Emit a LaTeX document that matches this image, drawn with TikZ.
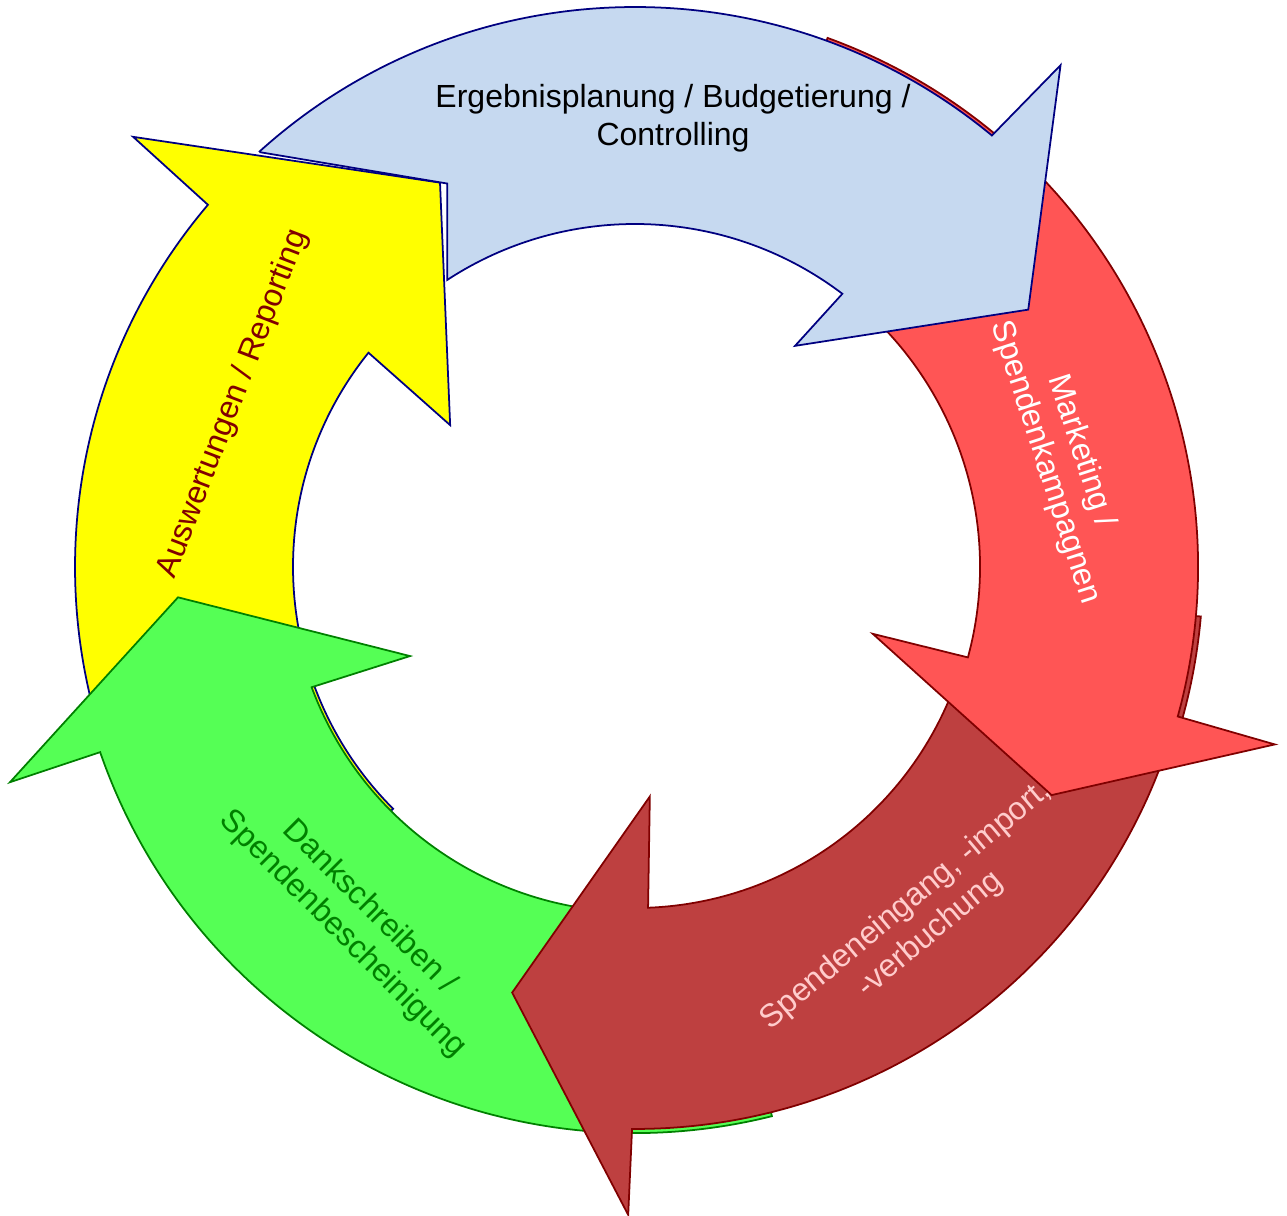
\documentclass[tikz,border=0pt]{standalone}
\usepackage{fontspec}
\setmainfont{Liberation Sans}
\usepackage{tikz}

\definecolor{planungfill}{RGB}{198,217,240}
\definecolor{marketingfill}{RGB}{255,85,85}
\definecolor{eingangfill}{RGB}{190,64,64}
\definecolor{dankfill}{RGB}{85,255,85}
\definecolor{auswertungfill}{RGB}{255,255,0}
\definecolor{navyline}{RGB}{0,0,128}
\definecolor{darkredline}{RGB}{128,0,0}
\definecolor{darkgreenline}{RGB}{0,128,0}
\definecolor{pinktext}{RGB}{255,204,204}

\begin{document}
\begin{tikzpicture}[x=0.01cm, y=0.01cm,
  planung/.style={fill=planungfill, draw=navyline, line width=0.5pt},
  marketing/.style={fill=marketingfill, draw=darkredline, line width=0.5pt},
  eingang/.style={fill=eingangfill, draw=darkredline, line width=0.5pt},
  dank/.style={fill=dankfill, draw=darkgreenline, line width=0.5pt},
  auswertung/.style={fill=auswertungfill, draw=navyline, line width=0.5pt},
  arrowtext/.style={align=center, inner sep=0pt, font=\fontsize{9.1}{10.8}\selectfont}]
\useasboundingbox (-635,-649) rectangle (652,567);
% Auswertungen / Reporting
\draw[auswertung] (225:560) arc[start angle=225, end angle=139.7, radius=560]
  -- (139.4:661) -- (116.9:431) -- (142.5:233) -- (141.2:342)
  arc[start angle=141.2, end angle=225, radius=342] -- cycle;
% Dankschreiben
\draw[dank] (-76:566) arc[start angle=-76, end angle=-160.9, radius=566]
  -- (-161:661) -- (-176.2:458) -- (-158.4:242) -- (-159.6:345)
  arc[start angle=-159.6, end angle=-76, radius=345] -- cycle;
% Spendeneingang
\draw[eingang] (-5:568) arc[start angle=-5, end angle=-16, radius=568] -- (-16:562)
  arc[start angle=-16, end angle=-90.3, radius=562]
  -- (-90.6:648) -- (-106.1:443) -- (-86.3:230) -- (-87.8:341)
  arc[start angle=-87.8, end angle=-20, radius=341] -- (-20:347)
  arc[start angle=-20, end angle=-5, radius=347] -- cycle;
% Marketing
\draw[marketing] (70:563) arc[start angle=70, end angle=-15.4, radius=563]
  -- (-15.5:664) -- (-28.7:475) -- (-15.7:247) -- (-15.2:345)
  arc[start angle=-15.2, end angle=70, radius=345] -- cycle;
% Ergebnisplanung
\draw[planung] (132.1:559) -- (116.1:427) -- (123.2:343)
  arc[start angle=123.2, end angle=52.8, radius=343]
  -- (54.1:273) -- (33.2:470) -- (49.7:658) -- (50.4:560)
  arc[start angle=50.4, end angle=132.1, radius=560] -- cycle;

\path
(38,449) node[arrowtext, text=black] (planungtext) {Ergebnisplanung / Budgetierung /\\Controlling};
\path
(428,110) node[arrowtext, text=white, rotate=-72] (marketingtext) {Marketing /\\Spendenkampagnen};
\path
(283,-353) node[arrowtext, text=pinktext, rotate=40] (eingangtext) {Spendeneingang, -import,\\-verbuchung};
\path
(-279,-354) node[arrowtext, text=darkgreenline, rotate=-45] (danktext) {Dankschreiben /\\Spendenbescheinigung};
\path
(-402,163) node[arrowtext, text=darkredline, rotate=69] (auswertungtext) {Auswertungen / Reporting};
\end{tikzpicture}
\end{document}
